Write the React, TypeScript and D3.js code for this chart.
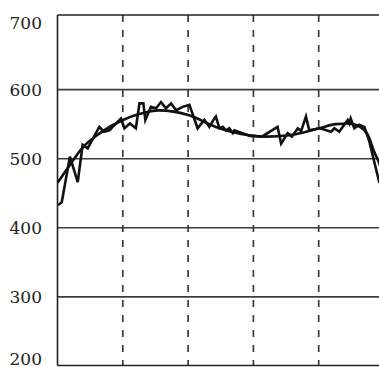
import React from "react";
import * as d3 from "d3";

const yTicks = [200, 300, 400, 500, 600, 700];
const gridValues = [300, 400, 500, 600];
const dashedT = [20, 40, 60, 80];

const noisyT = [0.2, 1.3, 3.8, 6.2, 7.7, 9.25, 12.8, 14.2, 15.9, 16.9, 19.4, 20.5, 22.2, 24, 25.1, 26.3, 26.9, 28.6, 30.2, 31.7, 33.2, 34.8, 36.3, 38.3, 40.4, 42.9, 45, 46.5, 48, 48.5, 49.6, 50.6, 51.6, 52.6, 53.7, 54.2, 59, 62.6, 67.4, 68.5, 70.5, 71.8, 73.6, 74.6, 76.1, 77.1, 80.4, 83.8, 84.8, 86.3, 87.8, 88.9, 89.4, 89.8, 90.9, 92.4, 94, 95.5, 97, 98.6];
const noisyV = [433, 437, 503, 466, 520, 515, 546, 539, 541, 546, 558, 544, 551, 544, 580, 580, 556, 575, 573, 582, 573, 580, 570, 575, 578, 544, 556, 546, 558, 561, 544, 546, 541, 544, 537, 541, 533, 532, 546, 522, 537, 532, 544, 540, 561, 541, 544, 539, 544, 539, 549, 556, 551, 558, 544, 549, 546, 525, 496, 465];

const fitT = [0, 3.8, 7.5, 13, 20, 25.3, 31, 40.3, 48.5, 58.7, 63.9, 70.9, 80.1, 85.3, 89.3, 92.3, 95.1, 97, 98.5, 100];
const fitV = [465, 491, 515, 537, 556, 565, 570, 563, 546, 534, 532, 534, 544, 550, 551, 547, 534, 510, 494, 470];

const W = 379;
const H = 367;
const left = 57.5;
const right = 384;
const top = 15;
const bottom = 365.5;

export default function App() {
  const x = d3.scaleLinear().domain([0, 100]).range([left, right]);
  const y = d3.scaleLinear().domain([200, 700]).range([366, 20.5]);

  const noisy = d3
    .line<number>()
    .x((_, i) => x(noisyT[i]))
    .y((v) => y(v))
    .curve(d3.curveLinear)(noisyV);

  const fit = d3
    .line<number>()
    .x((_, i) => x(fitT[i]))
    .y((v) => y(v))
    .curve(d3.curveMonotoneX)(fitV);

  return (
    <div style={{ position: "absolute", left: 0, top: 0 }}>
      <svg width={W} height={H} style={{ display: "block", background: "#fff" }}>
        <defs>
          <clipPath id="plot">
            <rect x={left} y={top} width={right - left} height={bottom - top} />
          </clipPath>
        </defs>
        {gridValues.map((v) => (
          <line key={v} x1={left} x2={right} y1={y(v)} y2={y(v)} stroke="#3c3c3c" strokeWidth={1.6} />
        ))}
        {dashedT.map((t) => (
          <line key={t} x1={x(t)} x2={x(t)} y1={top} y2={bottom} stroke="#3c3c3c" strokeWidth={1.7} strokeDasharray="7,8" />
        ))}
        <line x1={left} x2={right} y1={top} y2={top} stroke="#222" strokeWidth={1.6} />
        <line x1={left} x2={right} y1={bottom} y2={bottom} stroke="#222" strokeWidth={1.6} />
        <line x1={left} x2={left} y1={top} y2={bottom} stroke="#222" strokeWidth={1.6} />
        <g clipPath="url(#plot)">
          <path d={fit || ""} fill="none" stroke="#111" strokeWidth={2.6} />
          <path d={noisy || ""} fill="none" stroke="#111" strokeWidth={2.6} strokeLinejoin="miter" />
        </g>
        {yTicks.map((v) => (
          <text
            key={v}
            x={42}
            y={Math.min(Math.max(y(v), 23), 359)}
            textAnchor="end"
            dominantBaseline="central"
            style={{ fontFamily: "DejaVu Serif, serif", fontSize: "17px" }}
            fill="#222"
          >
            {v}
          </text>
        ))}
      </svg>
    </div>
  );
}
